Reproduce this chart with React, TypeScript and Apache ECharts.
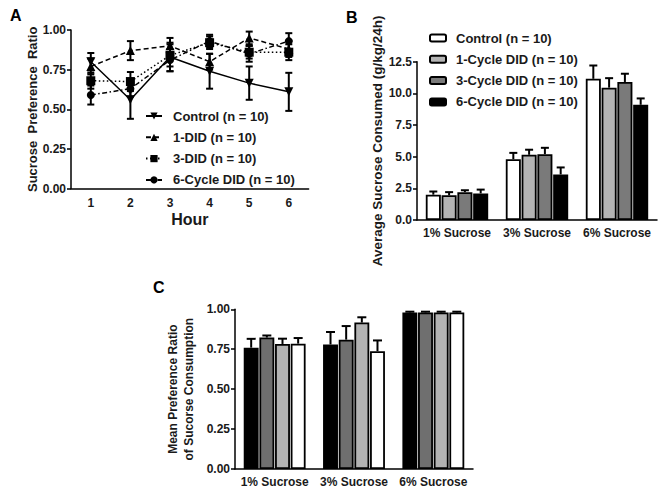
import React, { useEffect, useRef } from "react";
import * as echarts from "echarts";

// ---------- Panel A data ----------
const hours = ["1", "2", "3", "4", "5", "6"];
const aNames = ["Control (n = 10)", "1-DID (n = 10)", "3-DID (n = 10)", "6-Cycle DID (n = 10)"];
const aControl = [0.80, 0.56, 0.83, 0.74, 0.665, 0.61];
const aControlErr = [0.055, 0.12, 0.09, 0.11, 0.105, 0.12];
const a1DID = [0.77, 0.87, 0.90, 0.80, 0.95, 0.88];
const a1DIDErr = [0.05, 0.06, 0.05, 0.05, 0.04, 0.05];
const a3DID = [0.68, 0.675, 0.84, 0.92, 0.86, 0.86];
const a3DIDErr = [0.05, 0.06, 0.07, 0.04, 0.04, 0.05];
const a6DID = [0.59, 0.63, 0.81, 0.93, 0.85, 0.93];
const a6DIDErr = [0.06, 0.05, 0.07, 0.04, 0.05, 0.05];

// ---------- Panel B data ----------
const sucroseCats = ["1% Sucrose", "3% Sucrose", "6% Sucrose"];
const bNames = ["Control (n = 10)", "1-Cycle DID (n = 10)", "3-Cycle DID (n = 10)", "6-Cycle DID (n = 10)"];
const bControl = [2.0, 4.8, 11.15];
const bControlErr = [0.25, 0.5, 1.05];
const b1Cycle = [1.95, 5.15, 10.45];
const b1CycleErr = [0.25, 0.4, 0.75];
const b3Cycle = [2.2, 5.2, 10.9];
const b3CycleErr = [0.15, 0.5, 0.65];
const b6Cycle = [2.1, 3.6, 9.1];
const b6CycleErr = [0.3, 0.55, 0.5];
const bTicks = [0, 2.5, 5, 7.5, 10, 12.5];

// ---------- Panel C data ----------
const cNames = ["6-Cycle DID", "3-Cycle DID", "1-Cycle DID", "Control"];
const c6Cycle = [0.76, 0.78, 0.98];
const c6CycleErr = [0.055, 0.078, 0.005];
const c3Cycle = [0.823, 0.81, 0.98];
const c3CycleErr = [0.013, 0.085, 0.005];
const c1Cycle = [0.783, 0.917, 0.98];
const c1CycleErr = [0.033, 0.033, 0.005];
const cControl = [0.785, 0.738, 0.98];
const cControlErr = [0.035, 0.067, 0.005];

const FONT = "Liberation Sans, Arial, Helvetica, sans-serif";
const TXT = "#1a1a1a";
const CAT_GAP = 0.22;
const BAR_GAP = 0.05;

function groupedErr(n: number, cap: number) {
  return (params: any, api: any) => {
    const cat = api.value(0);
    const idx = api.value(1);
    const mean = api.value(2);
    const top = api.value(3);
    const pTop = api.coord([cat, top]);
    const pMean = api.coord([cat, mean]);
    const band = api.size([1, 0])[0];
    const usable = band * (1 - CAT_GAP);
    const bw = usable / (n + (n - 1) * BAR_GAP);
    const x = pTop[0] - usable / 2 + idx * bw * (1 + BAR_GAP) + bw / 2;
    const st = { stroke: "#000", lineWidth: 2 };
    return {
      type: "group",
      children: [
        { type: "line", shape: { x1: x, y1: pMean[1], x2: x, y2: pTop[1] }, style: st },
        { type: "line", shape: { x1: x - cap, y1: pTop[1], x2: x + cap, y2: pTop[1] }, style: st },
      ],
    };
  };
}

function lineErr(params: any, api: any) {
  const cat = api.value(0);
  const lo = api.coord([cat, api.value(1)]);
  const hi = api.coord([cat, api.value(2)]);
  const cap = 3.5;
  const st = { stroke: "#000", lineWidth: 2 };
  return {
    type: "group",
    children: [
      { type: "line", shape: { x1: lo[0], y1: lo[1], x2: hi[0], y2: hi[1] }, style: st },
      { type: "line", shape: { x1: lo[0] - cap, y1: lo[1], x2: lo[0] + cap, y2: lo[1] }, style: st },
      { type: "line", shape: { x1: hi[0] - cap, y1: hi[1], x2: hi[0] + cap, y2: hi[1] }, style: st },
    ],
  };
}

const axisLine = { lineStyle: { color: "#000", width: 1.5 } };
const axisTick = { lineStyle: { color: "#000", width: 1.5 }, length: 4 };
const labelStyle = { color: TXT, fontFamily: FONT, fontWeight: "bold" as const, fontSize: 12 };
const nameStyle = { color: TXT, fontFamily: FONT, fontWeight: "bold" as const, fontSize: 13.5 };

export default function App() {
  const ref = useRef<HTMLDivElement>(null);
  useEffect(() => {
    if (!ref.current) return;
    const chart = echarts.init(ref.current, undefined, { renderer: "svg" });

    const aMeans = [aControl, a1DID, a3DID, a6DID];
    const aErrs = [aControlErr, a1DIDErr, a3DIDErr, a6DIDErr];
    const aSymbols = ["triangle", "triangle", "rect", "circle"];
    const aRotate = [180, 0, 0, 0];
    const aDash: any[] = ["solid", [5, 3], [1.5, 2.5], [5, 2.5, 1.5, 2.5]];

    const bMeans = [bControl, b1Cycle, b3Cycle, b6Cycle];
    const bErrs = [bControlErr, b1CycleErr, b3CycleErr, b6CycleErr];
    const bColors = ["#ffffff", "#b4b4b4", "#7a7a7a", "#000000"];

    const cMeans = [c6Cycle, c3Cycle, c1Cycle, cControl];
    const cErrs = [c6CycleErr, c3CycleErr, c1CycleErr, cControlErr];
    const cColors = ["#000000", "#6f6f6f", "#b3b3b3", "#ffffff"];

    const series: any[] = [];

    aNames.forEach((name, i) => {
      series.push({
        name: "A:" + name,
        type: "line",
        xAxisIndex: 0,
        yAxisIndex: 0,
        data: aMeans[i],
        symbol: aSymbols[i],
        symbolRotate: aRotate[i],
        symbolSize: i === 3 ? 8 : 9,
        itemStyle: { color: "#000" },
        lineStyle: { color: "#000", width: 1.5, type: aDash[i] },
        z: 3,
      });
    });
    const aErrData: number[][] = [];
    aMeans.forEach((m, s) => m.forEach((v, h) => aErrData.push([h, v - aErrs[s][h], v + aErrs[s][h]])));
    series.push({
      type: "custom",
      xAxisIndex: 0,
      yAxisIndex: 0,
      renderItem: lineErr,
      encode: { x: 0, y: [1, 2] },
      data: aErrData,
      z: 4,
      silent: true,
    });

    bNames.forEach((name, i) => {
      series.push({
        name,
        type: "bar",
        xAxisIndex: 1,
        yAxisIndex: 1,
        data: bMeans[i],
        barCategoryGap: CAT_GAP * 100 + "%",
        barGap: BAR_GAP * 100 + "%",
        itemStyle: { color: bColors[i], borderColor: "#000", borderWidth: 1.8 },
      });
    });
    const bErrData: number[][] = [];
    bMeans.forEach((m, s) => m.forEach((v, c) => bErrData.push([c, s, v, v + bErrs[s][c]])));
    series.push({
      type: "custom",
      xAxisIndex: 1,
      yAxisIndex: 1,
      renderItem: groupedErr(4, 4),
      encode: { x: 0, y: [2, 3] },
      data: bErrData,
      z: 1,
      silent: true,
    });

    cNames.forEach((name, i) => {
      series.push({
        name: "C:" + name,
        type: "bar",
        xAxisIndex: 2,
        yAxisIndex: 2,
        data: cMeans[i],
        barCategoryGap: CAT_GAP * 100 + "%",
        barGap: BAR_GAP * 100 + "%",
        itemStyle: { color: cColors[i], borderColor: "#000", borderWidth: 1.8 },
      });
    });
    const cErrData: number[][] = [];
    cMeans.forEach((m, s) => m.forEach((v, c) => cErrData.push([c, s, v, v + cErrs[s][c]])));
    series.push({
      type: "custom",
      xAxisIndex: 2,
      yAxisIndex: 2,
      renderItem: groupedErr(4, 4.5),
      encode: { x: 0, y: [2, 3] },
      data: cErrData,
      z: 1,
      silent: true,
    });

    chart.setOption({
      animation: false,
      backgroundColor: "#fff",
      textStyle: { fontFamily: FONT },
      grid: [
        { left: 71, top: 30, width: 237.6, height: 158.6 },
        { left: 417, top: 61.7, width: 240, height: 158.3 },
        { left: 235, top: 309.3, width: 238, height: 159.7 },
      ],
      xAxis: [
        {
          gridIndex: 0,
          type: "category",
          data: hours,
          boundaryGap: true,
          axisLine,
          axisTick: { ...axisTick, alignWithLabel: true },
          axisLabel: { ...labelStyle, margin: 8 },
          name: "Hour",
          nameLocation: "middle",
          nameGap: 23,
          nameTextStyle: { ...nameStyle, fontSize: 16 },
        },
        {
          gridIndex: 1,
          type: "category",
          data: sucroseCats,
          axisLine,
          axisTick: { show: false },
          axisLabel: { ...labelStyle, margin: 7, interval: 0 },
        },
        {
          gridIndex: 2,
          type: "category",
          data: sucroseCats,
          axisLine,
          axisTick: { show: false },
          axisLabel: { ...labelStyle, margin: 7, interval: 0 },
        },
      ],
      yAxis: [
        {
          gridIndex: 0,
          type: "value",
          min: 0,
          max: 1,
          interval: 0.25,
          axisLine: { show: true, ...axisLine },
          axisTick: { show: true, ...axisTick },
          splitLine: { show: false },
          axisLabel: { ...labelStyle, margin: 5, formatter: (v: number) => v.toFixed(2) },
          name: "Sucrose  Preference  Ratio",
          nameLocation: "middle",
          nameGap: 28,
          nameTextStyle: { ...nameStyle, fontSize: 13 },
        },
        {
          gridIndex: 1,
          type: "value",
          min: bTicks[0],
          max: bTicks[bTicks.length - 1],
          interval: 2.5,
          axisLine: { show: true, ...axisLine },
          axisTick: { show: true, ...axisTick },
          splitLine: { show: false },
          axisLabel: { ...labelStyle, margin: 5, formatter: (v: number) => v.toFixed(1) },
          name: "Average Sucrose Consumed (g/kg/24h)",
          nameLocation: "middle",
          nameGap: 30,
          nameTextStyle: nameStyle,
        },
        {
          gridIndex: 2,
          type: "value",
          min: 0,
          max: 1,
          interval: 0.25,
          axisLine: { show: true, ...axisLine },
          axisTick: { show: true, ...axisTick },
          splitLine: { show: false },
          axisLabel: { ...labelStyle, margin: 5, formatter: (v: number) => v.toFixed(2) },
          name: "Mean Preference Ratio\nof Sucorse Consumption",
          nameLocation: "middle",
          nameGap: 38,
          nameTextStyle: { ...nameStyle, fontSize: 12, lineHeight: 16 },
        },
      ],
      legend: [
        {
          orient: "vertical",
          left: 145,
          top: 109.5,
          padding: 0,
          itemWidth: 16,
          itemHeight: 9,
          itemGap: 8.3,
          data: aNames.map((n) => "A:" + n),
          formatter: (name: string) => name.replace(/^A:/, ""),
          textStyle: { ...labelStyle, fontSize: 13, padding: [0, 0, 0, 6] },
          selectedMode: false,
        },
        {
          orient: "vertical",
          left: 429,
          top: 31.5,
          padding: 0,
          itemWidth: 16,
          itemHeight: 7,
          itemGap: 8.3,
          data: bNames,
          textStyle: { ...labelStyle, fontSize: 13, padding: [0, 0, 0, 5] },
          selectedMode: false,
        },
      ],
      graphic: [
        { type: "text", left: 10, top: 7, style: { text: "A", font: `bold 16px ${FONT}`, fill: "#000" } },
        { type: "text", left: 346, top: 9, style: { text: "B", font: `bold 16px ${FONT}`, fill: "#000" } },
        { type: "text", left: 153, top: 279, style: { text: "C", font: `bold 16px ${FONT}`, fill: "#000" } },
      ],
      series,
    });
    return () => chart.dispose();
  }, []);
  return (
    <div
      ref={ref}
      style={{ position: "fixed", left: 0, top: 0, width: 663, height: 493, background: "#fff" }}
    />
  );
}
